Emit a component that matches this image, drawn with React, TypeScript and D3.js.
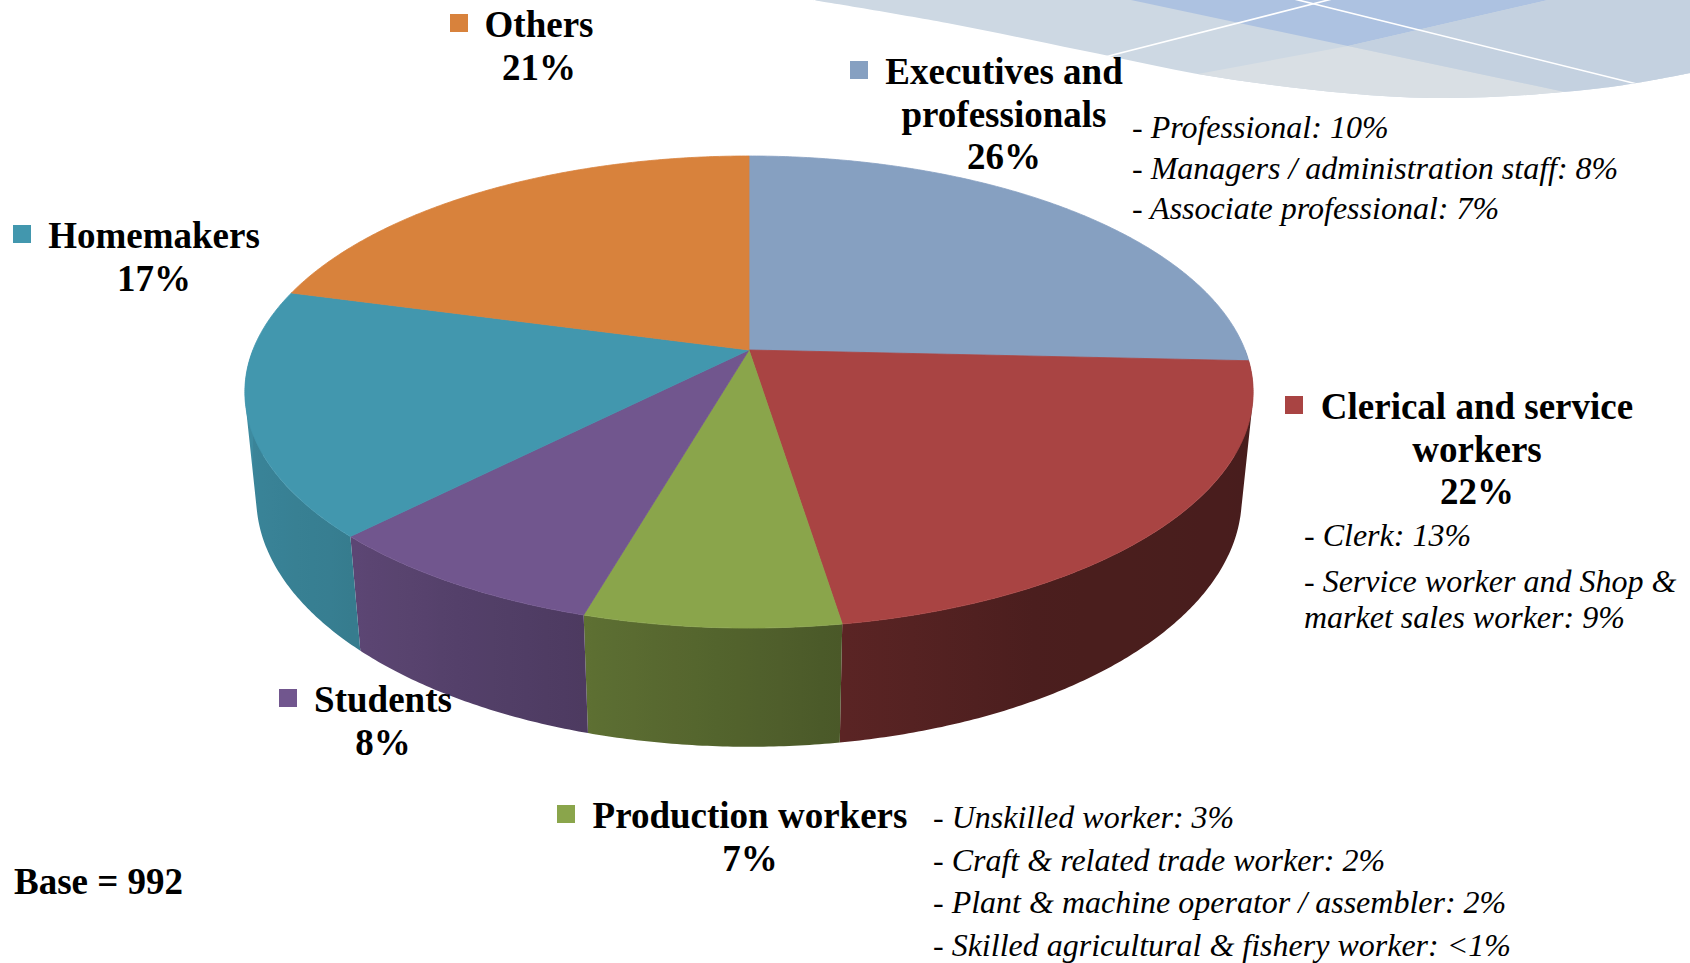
import React from "react";
import * as d3 from "d3";

// ---------- data ----------
const categories = [
  "Executives and professionals",
  "Clerical and service workers",
  "Production workers",
  "Students",
  "Homemakers",
  "Others",
];
const categoryLines = [
  ["Executives and", "professionals"],
  ["Clerical and service", "workers"],
  ["Production workers"],
  ["Students"],
  ["Homemakers"],
  ["Others"],
];
const values = [26, 22, 7, 8, 17, 21];
const percentLabels = ["26%", "22%", "7%", "8%", "17%", "21%"];
const colors = ["#86a0c1", "#a94443", "#8aa54b", "#71568e", "#4297ae", "#d8823c"];

const execDetails = [
  "- Professional: 10%",
  "- Managers / administration staff: 8%",
  "- Associate professional: 7%",
];
const clericalDetails = [
  "- Clerk: 13%",
  "- Service worker and Shop &",
  "market sales worker: 9%",
];
const productionDetails = [
  "- Unskilled worker: 3%",
  "- Craft & related trade worker: 2%",
  "- Plant & machine operator / assembler: 2%",
  "- Skilled agricultural & fishery worker: <1%",
];
const baseText = "Base = 992";

// ---------- layout ----------
const W = 1690;
const H = 963;
const FONT = "'Liberation Serif', 'Times New Roman', Times, serif";
const BOLD_SIZE = 37;
const ITALIC_SIZE = 32;
const LINE_H = 42.5;

// label positions (center x, first baseline, legend square x) per category
const labelLayout = [
  { cx: 1004, y: 84, sq: 850 },
  { cx: 1477, y: 419, sq: 1285 },
  { cx: 750, y: 828, sq: 557 },
  { cx: 383, y: 712, sq: 279 },
  { cx: 154, y: 248, sq: 13 },
  { cx: 539, y: 37, sq: 450 },
];

// perspective projection of the 3D pie
const CX = 749;
const CY = 350;
const FOCAL = 2473;
const RR = 0.2006;
const SIN_PHI = 0.4607;
const COS_PHI = 0.8875;
const DEPTH = 0.0485;

function proj(t: number, bottom: boolean): [number, number] {
  const c = Math.cos(t);
  const s = Math.sin(t);
  const hh = bottom ? DEPTH : 0;
  const den = 1 + RR * c * COS_PHI + hh * SIN_PHI;
  const x = CX + (FOCAL * RR * s) / den;
  const y = CY - (FOCAL * (RR * c * SIN_PHI - hh * COS_PHI)) / den;
  return [x, y];
}

// side-wall shading (lit from the left), by angle in degrees
const shade = d3
  .scaleLinear<number>()
  .domain([90, 150, 172, 198, 227, 270])
  .range([0.42, 0.44, 0.54, 0.69, 0.83, 0.92])
  .clamp(true);

const lineGen = d3.line<[number, number]>();

function quadPath(q: [number, number][]): string {
  // ensure consistent (positive) orientation so the union fills with nonzero rule
  let area = 0;
  for (let i = 0; i < q.length; i++) {
    const [x1, y1] = q[i];
    const [x2, y2] = q[(i + 1) % q.length];
    area += x1 * y2 - x2 * y1;
  }
  const pts = area < 0 ? q.slice().reverse() : q;
  return (lineGen(pts) || "") + "Z";
}

export default function App() {
  const arcs = d3.pie<number>().sort(null).value((d) => d)(values);

  type Wall = {
    key: string;
    id: string;
    d: string;
    x1: number;
    x2: number;
    stops: { offset: number; color: string }[];
  };
  const walls: Wall[] = [];
  const tops: { key: string; fill: string; d: string }[] = [];

  arcs.forEach((arc, i) => {
    const base = d3.rgb(colors[i]);
    const span = arc.endAngle - arc.startAngle;

    // front (visible) part of the outer wall, as a union of thin strips
    const a = Math.max(arc.startAngle, Math.PI / 2);
    const b = Math.min(arc.endAngle, (3 * Math.PI) / 2);
    if (b > a) {
      const n = Math.max(4, Math.ceil((b - a) / (Math.PI / 360)));
      const thetas: number[] = [];
      for (let j = 0; j <= n; j++) thetas.push(a + ((b - a) * j) / n);
      const topPts = thetas.map((t) => proj(t, false));
      const botPts = thetas.map((t) => proj(t, true));
      let d = "";
      for (let j = 0; j < n; j++) {
        d += quadPath([topPts[j], topPts[j + 1], botPts[j + 1], botPts[j]]);
      }
      const x1 = topPts[0][0];
      const x2 = topPts[n][0];
      const stops: { offset: number; color: string }[] = [];
      const step = Math.max(1, Math.floor(n / 12));
      for (let j = 0; j <= n; j += step) {
        const f = shade((thetas[j] * 180) / Math.PI);
        stops.push({
          offset: (topPts[j][0] - x1) / (x2 - x1 || 1),
          color: d3.rgb(base.r * f, base.g * f, base.b * f).formatHex(),
        });
      }
      const fl = shade((thetas[n] * 180) / Math.PI);
      stops.push({ offset: 1, color: d3.rgb(base.r * fl, base.g * fl, base.b * fl).formatHex() });
      walls.push({ key: `w${i}`, id: `wg${i}`, d, x1, x2, stops });
    }

    // top face
    const m2 = Math.max(2, Math.ceil(span / (Math.PI / 360)));
    const pts: [number, number][] = [[CX, CY]];
    for (let j = 0; j <= m2; j++) {
      pts.push(proj(arc.startAngle + (span * j) / m2, false));
    }
    tops.push({ key: `t${i}`, fill: colors[i], d: (lineGen(pts) || "") + "Z" });
  });

  // decorative swoosh in the top-right corner
  const swooshPts: [number, number][] = [
    [813, 0],
    [947, 23],
    [1080, 50],
    [1235, 80],
    [1430, 98],
    [1602, 88],
    [1690, 73],
  ];
  const swooshEdge = d3.line<[number, number]>().curve(d3.curveCatmullRom)(swooshPts) || "";
  const swooshPath = swooshEdge + "L1690,0L813,0Z";

  return (
    <div style={{ position: "absolute", left: 0, top: 0, width: W, height: H, background: "#fff" }}>
      <svg width={W} height={H} viewBox={`0 0 ${W} ${H}`} style={{ display: "block" }}>
        <defs>
          <clipPath id="swooshClip">
            <path d={swooshPath} />
          </clipPath>
          {walls.map((w) => (
            <linearGradient key={w.id} id={w.id} gradientUnits="userSpaceOnUse" x1={w.x1} y1={0} x2={w.x2} y2={0}>
              {w.stops.map((s, k) => (
                <stop key={k} offset={Math.min(1, Math.max(0, s.offset))} stopColor={s.color} />
              ))}
            </linearGradient>
          ))}
        </defs>
        <g clipPath="url(#swooshClip)">
          <rect x={780} y={0} width={910} height={130} fill="#cdd8e3" />
          <path d="M800,148L1348,46L1690,118.5L1690,200L800,200Z" fill="#d9dfe4" />
          <path d="M1131,0L1348,46L1548,0Z" fill="#adc2e1" />
          <path d="M1548,0L1690,0L1690,118.5L1348,46Z" fill="#c4d1e0" />
          <line x1={1093} y1={60} x2={1336} y2={-2} stroke="#ffffff" strokeWidth={1.6} />
          <line x1={1290} y1={-2} x2={1645} y2={86} stroke="#ffffff" strokeWidth={1.6} />
        </g>

        <g>
          {walls.map((w) => (
            <path key={w.key} d={w.d} fill={`url(#${w.id})`} fillRule="nonzero" />
          ))}
          {tops.map((t) => (
            <path key={t.key} d={t.d} fill={t.fill} stroke={t.fill} strokeWidth={0.8} strokeLinejoin="round" />
          ))}
        </g>

        <g fontFamily={FONT} fill="#000">
          {categories.map((c, i) => {
            const L = labelLayout[i];
            const lines = [...categoryLines[i], percentLabels[i]];
            return (
              <g key={c}>
                <rect x={L.sq} y={L.y - 23} width={18} height={18} fill={colors[i]} />
                <text fontSize={BOLD_SIZE} fontWeight="bold" textAnchor="middle">
                  {lines.map((ln, k) => (
                    <tspan key={k} x={L.cx} y={L.y + k * LINE_H}>
                      {ln}
                    </tspan>
                  ))}
                </text>
              </g>
            );
          })}

          <text fontSize={ITALIC_SIZE} fontStyle="italic">
            {execDetails.map((t, k) => (
              <tspan key={k} x={1132} y={138 + k * 40.5}>
                {t}
              </tspan>
            ))}
          </text>
          <text fontSize={ITALIC_SIZE} fontStyle="italic">
            {clericalDetails.map((t, k) => (
              <tspan key={k} x={1304} y={[546, 592, 628][k]}>
                {t}
              </tspan>
            ))}
          </text>
          <text fontSize={ITALIC_SIZE} fontStyle="italic">
            {productionDetails.map((t, k) => (
              <tspan key={k} x={933} y={828 + k * 42.7}>
                {t}
              </tspan>
            ))}
          </text>

          <text x={14} y={894} fontSize={BOLD_SIZE} fontWeight="bold">
            {baseText}
          </text>
        </g>
      </svg>
    </div>
  );
}
